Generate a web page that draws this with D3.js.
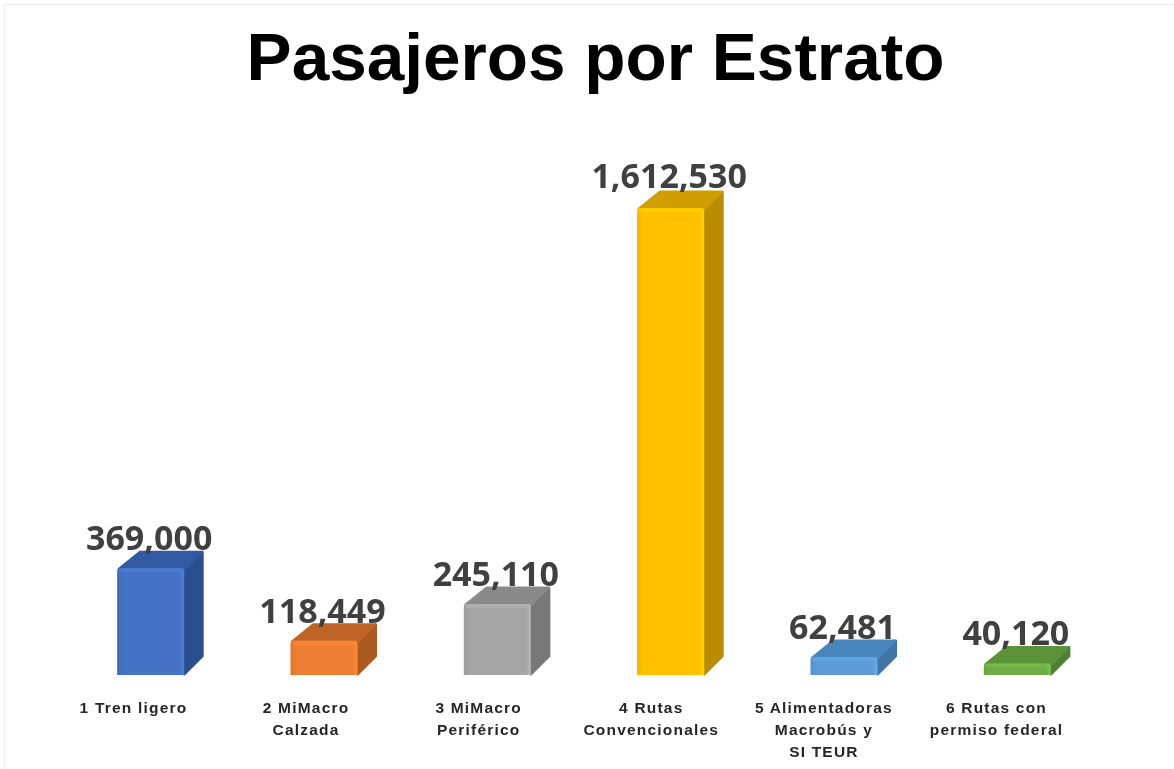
<!DOCTYPE html>
<html><head><meta charset="utf-8">
<script src="https://cdn.jsdelivr.net/npm/d3@7"></script>
<style>html,body{margin:0;padding:0;background:#fff;overflow:hidden}svg{display:block}</style>
</head><body><svg id="c" width="1174" height="769"></svg>
<script>
const titleText = "Pasajeros por Estrato";
const categories = [["1 Tren ligero"],["2 MiMacro","Calzada"],["3 MiMacro","Periférico"],["4 Rutas","Convencionales"],["5 Alimentadoras","Macrobús y","SI TEUR"],["6 Rutas con","permiso federal"]];
const values = [369000,118449,245110,1612530,62481,40120];
const frontColors = ["#4472C4","#ED7D31","#A5A5A5","#FFC000","#5B9BD5","#70AD47"];
const sideColors = ["#2C4F8F","#AD5A22","#787878","#BA8C00","#3F75A6","#4F7F31"];
const topColors = ["#335AA3","#BF6425","#8A8A8A","#D19E00","#4A86BD","#5B9339"];

const svg = d3.select("#c");
const defs = svg.append("defs");
defs.append("filter").attr("id","soft").attr("filterUnits","userSpaceOnUse")
  .attr("x",0).attr("y",0).attr("width",1174).attr("height",769)
  .append("feGaussianBlur").attr("stdDeviation",0.75);
svg.append("path").attr("d","M4.5,769V4.5H1174").attr("fill","none").attr("stroke","#ececec");

const root = svg.append("g").attr("filter","url(#soft)");
root.append("text").attr("x",595.5).attr("y",80).attr("text-anchor","middle")
  .attr("font-family","Liberation Sans").attr("font-weight",700).attr("font-size",67.5).attr("fill","#000").text(titleText);

const x = d3.scaleBand().domain(d3.range(values.length)).range([64,1104]).paddingInner(0.613).paddingOuter(0.3065);
const labelX = d3.scalePoint().domain(d3.range(values.length)).range([133.5,996.5]);
const y = d3.scaleLinear().domain([0,1612530]).range([675,208]);
const dx=20, dy=18;

const g = root.selectAll("g.bar").data(values).join("g").attr("class","bar");
g.each(function(v,i){
  const s=d3.select(this), L=x(i), R=L+x.bandwidth(), T=y(v), B=y(0);
  const id="grad"+i;
  const gr=defs.append("linearGradient").attr("id",id).attr("x1",0).attr("x2",1).attr("y1",0).attr("y2",0);
  gr.append("stop").attr("offset",0).attr("stop-color",d3.color(frontColors[i]).darker(0.15));
  gr.append("stop").attr("offset",0.1).attr("stop-color",frontColors[i]);
  gr.append("stop").attr("offset",0.92).attr("stop-color",frontColors[i]);
  gr.append("stop").attr("offset",1).attr("stop-color",d3.color(frontColors[i]).brighter(0.3));
  const line=d3.line().curve(d3.curveLinearClosed);
  s.append("path").attr("d",line([[R,T+2],[R+dx-2,T-dy+2],[R+dx-2,B-dy-1],[R,B-1]])).attr("fill",sideColors[i]).attr("stroke",sideColors[i]).attr("stroke-width",3).attr("stroke-linejoin","round");
  s.append("path").attr("d",line([[L+2,T+1],[L+dx+3,T-dy+2],[R+dx-3,T-dy+2],[R,T+1]])).attr("fill",topColors[i]).attr("stroke",topColors[i]).attr("stroke-width",3).attr("stroke-linejoin","round");
  s.append("path").attr("d",`M${L},${B}V${T+3}Q${L},${T} ${L+3},${T}H${R-3}Q${R},${T} ${R},${T+3}V${B}Z`).attr("fill","url(#"+id+")");
  s.append("rect").attr("x",L+2).attr("y",T).attr("width",x.bandwidth()-4).attr("height",Math.min(4,B-T)).attr("fill",d3.color(frontColors[i]).brighter(0.3)).attr("opacity",0.55);
  s.append("text").attr("x",(L+R)/2-1.5).attr("y",T-(v===d3.max(values)?20:18))
    .attr("text-anchor","middle").attr("font-family","Open Sans").attr("font-weight",700).attr("font-size",34).attr("fill","#404040")
    .text(d3.format(",")(v));
  const t=s.append("text").attr("text-anchor","middle").attr("font-family","Liberation Sans").attr("font-weight",700).attr("font-size",15.5).attr("letter-spacing",1.2).attr("fill","#262626");
  categories[i].forEach((ln,k)=>t.append("tspan").attr("x",labelX(i)).attr("y",713+k*22).text(ln));
});
</script></body></html>
